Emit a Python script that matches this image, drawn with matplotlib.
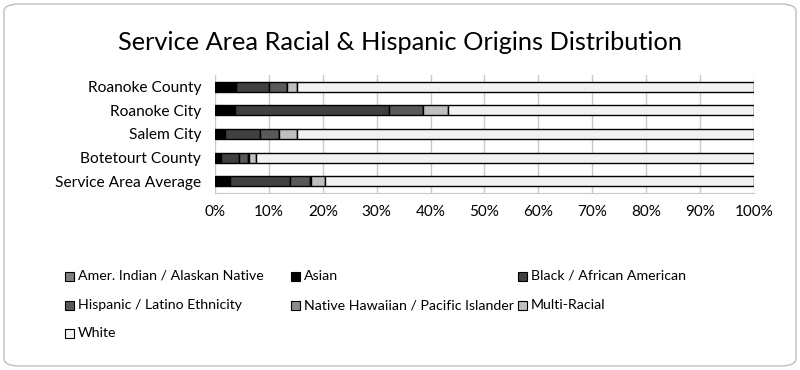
import matplotlib
matplotlib.use("Agg")
import matplotlib.pyplot as plt
from matplotlib.patches import FancyBboxPatch, Rectangle
import numpy as np

plt.rcParams['font.family'] = ['Lato', 'DejaVu Sans']

categories = ["Roanoke County", "Roanoke City", "Salem City", "Botetourt County", "Service Area Average"]
series_names = ["Amer. Indian / Alaskan Native", "Asian", "Black / African American",
                "Hispanic / Latino Ethnicity", "Native Hawaiian / Pacific Islander",
                "Multi-Racial", "White"]
amer_indian = [0.2, 0.2, 0.2, 0.2, 0.2]
asian = [3.7, 3.5, 1.7, 0.9, 2.5]
black = [6.1, 28.6, 6.5, 3.3, 11.3]
hispanic = [3.3, 6.2, 3.5, 1.8, 3.7]
nat_hawaiian = [0.05, 0.05, 0.05, 0.05, 0.05]
multi = [1.8, 4.6, 3.2, 1.4, 2.7]
white = [100 - sum(v) for v in zip(amer_indian, asian, black, hispanic, nat_hawaiian, multi)]
series = [amer_indian, asian, black, hispanic, nat_hawaiian, multi, white]
colors = ["#7f7f7f", "#000000", "#404040", "#595959", "#8c8c8c", "#bfbfbf", "#f2f2f2"]
xticks = list(range(0, 101, 10))
xticklabels = [f"{t}%" for t in xticks]

fig = plt.figure(figsize=(8, 3.7), dpi=100)
W, H = 800, 370

# rounded border
fig.patches.append(FancyBboxPatch((4 / W, 4 / H), 792 / W, 362 / H,
                                  boxstyle="round,pad=0,rounding_size=0.02",
                                  transform=fig.transFigure, facecolor="white",
                                  edgecolor="#bfbfbf", linewidth=1.0, zorder=-1))

ax = fig.add_axes([215 / W, 1 - 193 / H, (754 - 215) / W, (193 - 75) / H])
ax.set_facecolor("none")
y = np.arange(len(categories))
left = np.zeros(len(categories))
for vals, c in zip(series, colors):
    ax.barh(y, vals, left=left, height=0.42, color=c, edgecolor="black", linewidth=1.0, zorder=3)
    left += np.array(vals)

ax.set_xlim(0, 100)
ax.set_ylim(len(categories) - 0.5, -0.5)
ax.set_yticks(y)
ax.set_yticklabels(categories, fontsize=11.2)
ax.set_xticks(xticks)
ax.set_xticklabels(xticklabels, fontsize=11)
ax.tick_params(axis='y', length=0, pad=10)
ax.tick_params(axis='x', length=0, pad=9)
ax.grid(axis='x', color="#c8c8c8", linewidth=1.0, zorder=0)
for s in ["top", "right", "left"]:
    ax.spines[s].set_visible(False)
ax.spines["bottom"].set_color("#c8c8c8")

fig.text(0.5, 1 - 42 / H, "Service Area Racial & Hispanic Origins Distribution",
         ha="center", va="center", fontsize=18.3, color="#000000")

# legend laid out row-wise
col_x = [65, 291, 518]
row_y = [276, 305, 333]
for i, (name, c) in enumerate(zip(series_names, colors)):
    r, k = divmod(i, 3)
    px, py = col_x[k], row_y[r]
    fig.patches.append(Rectangle((px / W, (H - py - 4.5) / H), 9 / W, 9 / H,
                                 transform=fig.transFigure, facecolor=c,
                                 edgecolor="black", linewidth=0.8))
    fig.text((px + 13) / W, 1 - py / H, name, ha="left", va="center", fontsize=10.2)

fig.savefig("out.png", dpi=100)
